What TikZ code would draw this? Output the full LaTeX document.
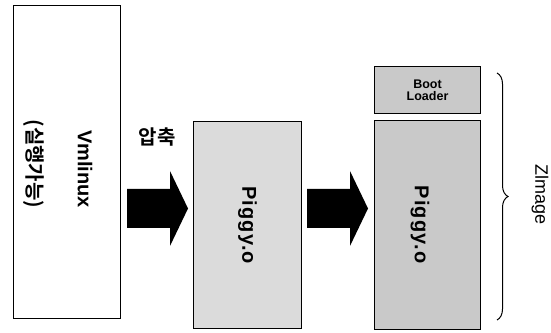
\documentclass[tikz,border=0pt]{standalone}
\usepackage{fontspec}
\setmainfont{Liberation Sans}
\newfontfamily\kor{Noto Sans CJK KR}[BoldFont={* Bold}]
\usetikzlibrary{decorations.pathreplacing}
\begin{document}
\begin{tikzpicture}[x=1pt,y=1pt,
  blk/.style={draw=black,line width=1.1pt},
  vlabel/.style={rotate=-90,font=\bfseries\fontsize{20}{22}\selectfont},
  plabel/.style={rotate=-90,font=\bfseries\fontsize{20}{22}\selectfont\addfontfeature{LetterSpace=6}},
  bigarr/.pic={\fill[black] (0,19.5) -- (43,19.5) -- (43,37.5) -- (61,0) -- (43,-37.5) -- (43,-19.5) -- (0,-19.5) -- cycle;},
]
\useasboundingbox (0,0) rectangle (551,332);
% y_tikz = 332 - y_image
\node[blk,fill=white,minimum width=107pt,minimum height=313pt,anchor=north west,inner sep=0pt] (vm) at (13,327) {};
\node[vlabel] (vmt) at (85,163) {Vmlinux};
\node[rotate=-90,font=\kor\bfseries\fontsize{20}{22}\selectfont] (vmk) at (34,168) {(실행가능)};
\node[font=\kor\bfseries\fontsize{20}{22}\selectfont] (ap) at (157,195) {압축};
\pic (a1) at (127,123.5) {bigarr};
\node[blk,fill=gray!28,minimum width=108pt,minimum height=207pt,anchor=north west,inner sep=0pt] (pg) at (193,211) {};
\node[plabel] (pgt) at (pg.center) {Piggy.o};
\pic (a2) at (307,123.5) {bigarr};
\node[blk,fill=gray!42,minimum width=106pt,minimum height=47pt,anchor=north west,inner sep=0pt,
  font=\bfseries\fontsize{12.5}{12.5}\selectfont,align=center] (bl) at (374,266) {Boot\\Loader};
\node[blk,fill=gray!42,minimum width=106pt,minimum height=209pt,anchor=north west,inner sep=0pt] (pz) at (374,212) {};
\node[plabel] (pzt) at (420,107.5) {Piggy.o};
\coordinate (bt) at (497,259);
\coordinate (bb) at (497,12);
\draw[line width=1pt,decorate,decoration={brace,amplitude=11pt}] (bt) -- (bb);
\node[rotate=-90,font=\fontsize{18}{20}\selectfont] (zi) at (540,137) {Zlmage};
\end{tikzpicture}
\end{document}
